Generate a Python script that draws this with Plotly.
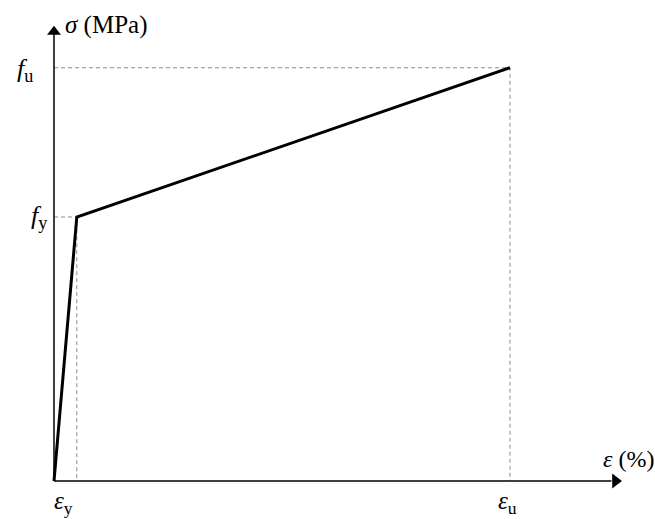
import plotly.graph_objects as go

# Bilinear stress-strain model
strain = [0.0, 0.2, 4.0]          # %  (0, eps_y, eps_u)
stress = [0.0, 345.0, 540.0]      # MPa (0, f_y, f_u)
x_labels = ["<i>ε</i><sub>y</sub>", "<i>ε</i><sub>u</sub>"]
y_labels = ["<i>f</i><sub>y</sub>", "<i>f</i><sub>u</sub>"]

eps_y, eps_u = strain[1], strain[2]
f_y, f_u = stress[1], stress[2]

# axis extents (in data units)
X_TIP = 4.99
Y_TIP = 598.0

W, H = 655, 519
px_x = 114.0           # px per %
px_y = 264.0 / 345.0   # px per MPa
x0_px, y0_px = 54.0, 481.0
xr = [-x0_px / px_x, (W - x0_px) / px_x]
yr = [-(H - y0_px) / px_y, y0_px / px_y]

fig = go.Figure()

dash_style = dict(color="#8c8c8c", width=1, dash="4px,3px")
for ex, fs in [(eps_y, f_y), (eps_u, f_u)]:
    fig.add_trace(go.Scatter(x=[0, ex, ex], y=[fs, fs, 0], mode="lines",
                             line=dash_style, hoverinfo="skip"))

# axes
fig.add_trace(go.Scatter(x=[0, X_TIP - 0.1], y=[0, 0], mode="lines",
                         line=dict(color="black", width=1.5), hoverinfo="skip"))
fig.add_trace(go.Scatter(x=[0, 0], y=[0, Y_TIP - 12], mode="lines",
                         line=dict(color="black", width=1.5), hoverinfo="skip"))
fig.add_trace(go.Scatter(x=[X_TIP - 0.065], y=[0], mode="markers",
                         marker=dict(symbol="triangle-right", size=13, color="black",
                                     line=dict(width=0)), hoverinfo="skip"))
fig.add_trace(go.Scatter(x=[0], y=[Y_TIP - 11], mode="markers",
                         marker=dict(symbol="triangle-up", size=12, color="black",
                                     line=dict(width=0)), hoverinfo="skip"))

# stress-strain curve
fig.add_trace(go.Scatter(x=strain, y=stress, mode="lines",
                         line=dict(color="black", width=3), hoverinfo="skip"))

font = dict(family="Liberation Serif", size=26, color="black")
efont = dict(family="Liberation Serif", size=25, color="black")
ann = []
ann.append(dict(x=0, y=f_y, text=y_labels[0], xanchor="right", yanchor="middle",
                xshift=-4, yshift=0, showarrow=False, font=font))
ann.append(dict(x=0, y=f_u, text=y_labels[1], xanchor="right", yanchor="middle",
                xshift=-19, yshift=-2, showarrow=False, font=font))
ann.append(dict(x=eps_y, y=0, text=x_labels[0], xanchor="center", yanchor="top",
                xshift=-13, yshift=-4, showarrow=False, font=efont))
ann.append(dict(x=eps_u, y=0, text=x_labels[1], xanchor="center", yanchor="top",
                xshift=-3, yshift=-4, showarrow=False, font=efont))
ann.append(dict(x=0, y=Y_TIP, text="<i>σ</i> (MPa)", xanchor="left", yanchor="middle",
                xshift=9, yshift=-2, showarrow=False,
                font=dict(family="Liberation Serif", size=25, color="black")))
ann.append(dict(x=X_TIP, y=0, text="<i>ε</i> (%)", xanchor="right", yanchor="bottom",
                xshift=33, yshift=7, showarrow=False,
                font=dict(family="Liberation Serif", size=24, color="black")))

fig.update_layout(
    width=W, height=H, autosize=False,
    margin=dict(l=0, r=0, t=0, b=0),
    paper_bgcolor="white", plot_bgcolor="white",
    showlegend=False,
    xaxis=dict(range=xr, visible=False, fixedrange=True),
    yaxis=dict(range=yr, visible=False, fixedrange=True),
    annotations=ann,
)

fig.write_html("out.html", config={"displayModeBar": False},
               post_script="document.body.style.margin='0';")
